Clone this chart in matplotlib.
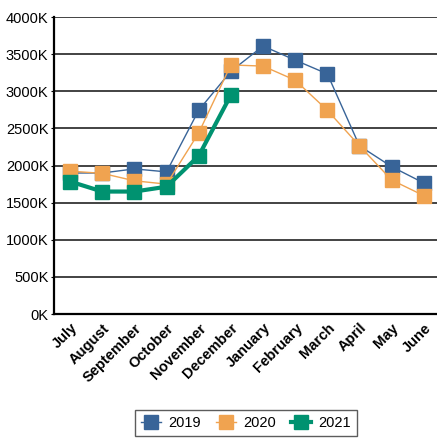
import matplotlib
matplotlib.use("Agg")
import matplotlib.pyplot as plt
from matplotlib.ticker import FuncFormatter

plt.rcParams['font.family'] = ['Liberation Sans', 'DejaVu Sans']

months = ["July", "August", "September", "October", "November", "December",
          "January", "February", "March", "April", "May", "June"]

# monthly values (thousands)
y2019 = [1900, 1900, 1955, 1915, 2745, 3270, 3610, 3420, 3235, 2265, 1985, 1765]
y2020 = [1925, 1895, 1795, 1750, 2440, 3355, 3340, 3150, 2745, 2265, 1805, 1595]
y2021 = [1785, 1650, 1650, 1715, 2130, 2950]

fig = plt.figure(figsize=(4.37, 4.38), dpi=100)
ax = fig.add_axes([0.1236, 0.283, 0.883, 0.678])

ax.plot(range(len(y2019)), y2019, color="#386498", lw=1.0, marker="s", ms=10.5,
        mec="#386498", label="2019")
ax.plot(range(len(y2020)), y2020, color="#f0a350", lw=1.0, marker="s", ms=10.5,
        mec="#f0a350", label="2020")
ax.plot(range(len(y2021)), y2021, color="#009270", lw=3.0, marker="s", ms=10.5,
        mec="#009270", label="2021")

ax.set_xlim(-0.5, 11.5)
ax.set_ylim(0, 4000)
ax.set_yticks(range(0, 4001, 500))
ax.yaxis.set_major_formatter(FuncFormatter(lambda v, p: f"{int(v)}K"))
ax.set_xticks(range(len(months)))
ax.set_xticklabels(months, rotation=45, ha="right", rotation_mode="anchor",
                   fontweight="bold", fontsize=10.5)
ax.tick_params(axis="y", labelsize=10.5, length=2, pad=2)
ax.tick_params(axis="x", length=0, pad=5)

ax.grid(axis="y", color="#222222", lw=1.2)
ax.set_axisbelow(True)
for s in ["top", "right"]:
    ax.spines[s].set_visible(False)
ax.spines["left"].set_linewidth(1.6)
ax.spines["bottom"].set_linewidth(1.6)

leg = fig.legend(loc="center", bbox_to_anchor=(0.563, 0.035), ncol=3, fontsize=10.5,
                 frameon=True, fancybox=False, edgecolor="#333333",
                 handlelength=1.4, columnspacing=1.0, handletextpad=0.5,
                 borderpad=0.4, markerscale=1.0)
leg.get_frame().set_linewidth(1.0)

fig.savefig("out.png", dpi=100)
